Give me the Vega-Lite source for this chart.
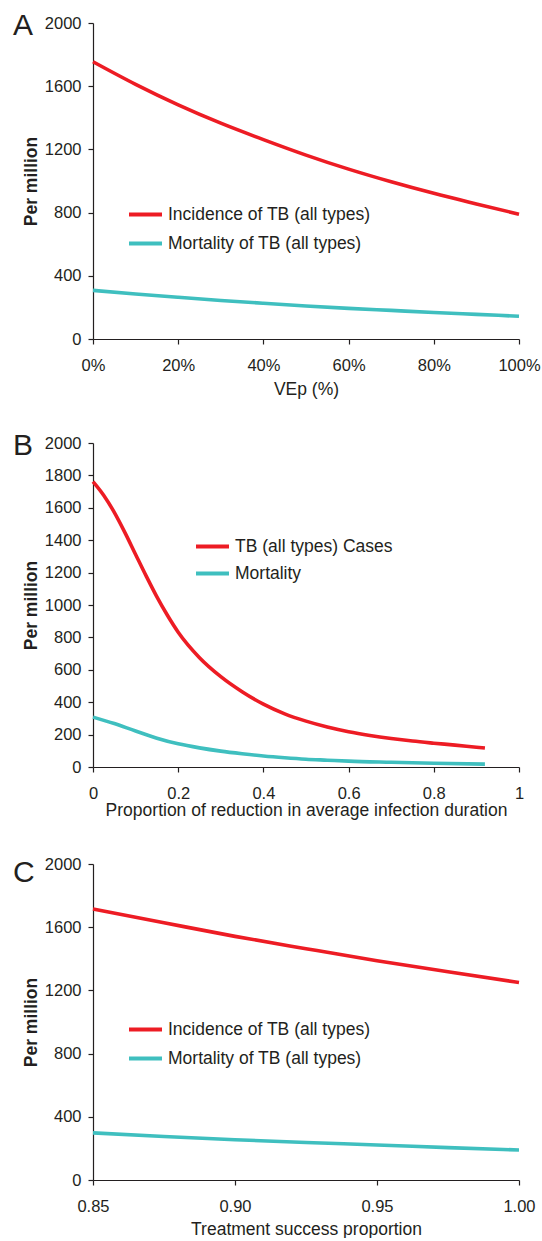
{
  "$schema": "https://vega.github.io/schema/vega-lite/v6.json",
  "padding": {"left": 13, "top": 11, "right": 0, "bottom": 0},
  "background": "white",
  "config": {
    "font": "Liberation Sans",
    "view": {"stroke": null},
    "axis": {"domainColor": "#231f20", "tickColor": "#231f20", "labelColor": "#231f20", "titleColor": "#231f20", "labelFontSize": 16.5, "titleFontSize": 17.5, "grid": false, "tickSize": 5, "labelFont": "Liberation Sans", "titleFont": "Liberation Sans", "domainWidth": 1.2, "tickWidth": 1.2, "labelFlush": false, "labelOverlap": false},
    "axisY": {"titleFontWeight": "bold", "titleFontSize": 17.5, "labelPadding": 7, "titlePadding": 4, "format": "d"},
    "axisX": {"titleFontWeight": "normal", "labelPadding": 13, "titlePadding": 7},
    "legend": {"symbolType": "stroke", "symbolStrokeWidth": 4, "symbolSize": 1089, "labelFontSize": 17.5, "labelColor": "#231f20", "labelOffset": 4, "rowPadding": 2, "labelFont": "Liberation Sans", "labelLimit": 400},
    "title": {"anchor": "start", "frame": "group", "fontSize": 30, "fontWeight": "normal", "color": "#231f20", "font": "Liberation Sans", "dx": -80, "dy": 30, "offset": 0, "baseline": "top"}
  },
  "resolve": {"scale": {"color": "independent", "x": "independent", "y": "independent"}},
  "spacing": 33,
  "vconcat": [
    {
      "width": 426, "height": 316,
      "title": {"text": "A"},
      "data": {"values": [
        {"vep": 0, "series": "Incidence of TB (all types)", "value": 1755},
        {"vep": 10, "series": "Incidence of TB (all types)", "value": 1612},
        {"vep": 20, "series": "Incidence of TB (all types)", "value": 1482},
        {"vep": 30, "series": "Incidence of TB (all types)", "value": 1366},
        {"vep": 40, "series": "Incidence of TB (all types)", "value": 1262},
        {"vep": 50, "series": "Incidence of TB (all types)", "value": 1164},
        {"vep": 60, "series": "Incidence of TB (all types)", "value": 1075},
        {"vep": 70, "series": "Incidence of TB (all types)", "value": 995},
        {"vep": 80, "series": "Incidence of TB (all types)", "value": 922},
        {"vep": 90, "series": "Incidence of TB (all types)", "value": 855},
        {"vep": 100, "series": "Incidence of TB (all types)", "value": 790},
        {"vep": 0, "series": "Mortality of TB (all types)", "value": 308},
        {"vep": 10, "series": "Mortality of TB (all types)", "value": 285},
        {"vep": 20, "series": "Mortality of TB (all types)", "value": 264},
        {"vep": 30, "series": "Mortality of TB (all types)", "value": 244},
        {"vep": 40, "series": "Mortality of TB (all types)", "value": 226},
        {"vep": 50, "series": "Mortality of TB (all types)", "value": 209},
        {"vep": 60, "series": "Mortality of TB (all types)", "value": 194},
        {"vep": 70, "series": "Mortality of TB (all types)", "value": 181},
        {"vep": 80, "series": "Mortality of TB (all types)", "value": 168},
        {"vep": 90, "series": "Mortality of TB (all types)", "value": 156},
        {"vep": 100, "series": "Mortality of TB (all types)", "value": 144}
      ]},
      "mark": {"type": "line", "strokeWidth": 3.6, "interpolate": "monotone"},
      "encoding": {
        "x": {"field": "vep", "type": "quantitative", "scale": {"domain": [0, 100], "nice": false}, "axis": {"values": [0, 20, 40, 60, 80, 100], "labelExpr": "datum.value + '%'", "title": "VEp (%)"}},
        "y": {"field": "value", "type": "quantitative", "scale": {"domain": [0, 2000], "nice": false}, "axis": {"values": [0, 400, 800, 1200, 1600, 2000], "title": "Per million"}},
        "color": {"field": "series", "type": "nominal", "scale": {"domain": ["Incidence of TB (all types)", "Mortality of TB (all types)"], "range": ["#ed1c24", "#3fbfbf"]}, "legend": {"orient": "none", "legendX": 34, "legendY": 173, "title": null}}
      }
    },
    {
      "resolve": {"scale": {"color": "independent", "x": "independent", "y": "independent"}},
      "spacing": 37,
      "vconcat": [
        {
          "width": 426, "height": 324,
          "title": {"text": "B"},
          "data": {"values": [
            {"x": 0, "series": "TB (all types) Cases", "value": 1762},
            {"x": 0.025, "series": "TB (all types) Cases", "value": 1678},
            {"x": 0.05, "series": "TB (all types) Cases", "value": 1572},
            {"x": 0.075, "series": "TB (all types) Cases", "value": 1447},
            {"x": 0.1, "series": "TB (all types) Cases", "value": 1312},
            {"x": 0.125, "series": "TB (all types) Cases", "value": 1178},
            {"x": 0.15, "series": "TB (all types) Cases", "value": 1050},
            {"x": 0.175, "series": "TB (all types) Cases", "value": 935},
            {"x": 0.2, "series": "TB (all types) Cases", "value": 832},
            {"x": 0.25, "series": "TB (all types) Cases", "value": 675},
            {"x": 0.3, "series": "TB (all types) Cases", "value": 558},
            {"x": 0.35, "series": "TB (all types) Cases", "value": 465},
            {"x": 0.4, "series": "TB (all types) Cases", "value": 388},
            {"x": 0.45, "series": "TB (all types) Cases", "value": 328},
            {"x": 0.5, "series": "TB (all types) Cases", "value": 283},
            {"x": 0.55, "series": "TB (all types) Cases", "value": 247},
            {"x": 0.6, "series": "TB (all types) Cases", "value": 218},
            {"x": 0.65, "series": "TB (all types) Cases", "value": 195},
            {"x": 0.7, "series": "TB (all types) Cases", "value": 176},
            {"x": 0.75, "series": "TB (all types) Cases", "value": 160},
            {"x": 0.8, "series": "TB (all types) Cases", "value": 147},
            {"x": 0.85, "series": "TB (all types) Cases", "value": 135},
            {"x": 0.9, "series": "TB (all types) Cases", "value": 122},
            {"x": 0.92, "series": "TB (all types) Cases", "value": 117},
            {"x": 0, "series": "Mortality", "value": 308},
            {"x": 0.05, "series": "Mortality", "value": 268},
            {"x": 0.1, "series": "Mortality", "value": 222},
            {"x": 0.15, "series": "Mortality", "value": 178},
            {"x": 0.2, "series": "Mortality", "value": 143},
            {"x": 0.25, "series": "Mortality", "value": 118},
            {"x": 0.3, "series": "Mortality", "value": 98},
            {"x": 0.35, "series": "Mortality", "value": 82},
            {"x": 0.4, "series": "Mortality", "value": 68},
            {"x": 0.45, "series": "Mortality", "value": 57},
            {"x": 0.5, "series": "Mortality", "value": 48},
            {"x": 0.55, "series": "Mortality", "value": 42},
            {"x": 0.6, "series": "Mortality", "value": 36},
            {"x": 0.7, "series": "Mortality", "value": 29},
            {"x": 0.8, "series": "Mortality", "value": 23},
            {"x": 0.92, "series": "Mortality", "value": 18}
          ]},
          "mark": {"type": "line", "strokeWidth": 3.6, "interpolate": "monotone"},
          "encoding": {
            "x": {"field": "x", "type": "quantitative", "scale": {"domain": [0, 1], "nice": false}, "axis": {"values": [0, 0.2, 0.4, 0.6, 0.8, 1], "format": "~g", "title": "Proportion of reduction in average infection duration", "titlePadding": 0}},
            "y": {"field": "value", "type": "quantitative", "scale": {"domain": [0, 2000], "nice": false}, "axis": {"values": [0, 200, 400, 600, 800, 1000, 1200, 1400, 1600, 1800, 2000], "title": "Per million"}},
            "color": {"field": "series", "type": "nominal", "scale": {"domain": ["TB (all types) Cases", "Mortality"], "range": ["#ed1c24", "#3fbfbf"]}, "legend": {"orient": "none", "legendX": 101, "legendY": 85, "rowPadding": 0, "title": null}}
          }
        },
        {
          "width": 426, "height": 316,
          "title": {"text": "C", "dy": 36},
          "data": {"values": [
            {"x": 0.85, "series": "Incidence of TB (all types)", "value": 1715},
            {"x": 0.875, "series": "Incidence of TB (all types)", "value": 1628},
            {"x": 0.9, "series": "Incidence of TB (all types)", "value": 1542},
            {"x": 0.925, "series": "Incidence of TB (all types)", "value": 1464},
            {"x": 0.95, "series": "Incidence of TB (all types)", "value": 1388},
            {"x": 0.975, "series": "Incidence of TB (all types)", "value": 1318},
            {"x": 1.0, "series": "Incidence of TB (all types)", "value": 1250},
            {"x": 0.85, "series": "Mortality of TB (all types)", "value": 298},
            {"x": 0.875, "series": "Mortality of TB (all types)", "value": 275},
            {"x": 0.9, "series": "Mortality of TB (all types)", "value": 255},
            {"x": 0.925, "series": "Mortality of TB (all types)", "value": 237},
            {"x": 0.95, "series": "Mortality of TB (all types)", "value": 222},
            {"x": 0.975, "series": "Mortality of TB (all types)", "value": 205},
            {"x": 1.0, "series": "Mortality of TB (all types)", "value": 190}
          ]},
          "mark": {"type": "line", "strokeWidth": 3.6, "interpolate": "monotone"},
          "encoding": {
            "x": {"field": "x", "type": "quantitative", "scale": {"domain": [0.85, 1], "nice": false, "zero": false}, "axis": {"values": [0.85, 0.9, 0.95, 1], "format": ".2f", "title": "Treatment success proportion", "titlePadding": 6}},
            "y": {"field": "value", "type": "quantitative", "scale": {"domain": [0, 2000], "nice": false}, "axis": {"values": [0, 400, 800, 1200, 1600, 2000], "title": "Per million"}},
            "color": {"field": "series", "type": "nominal", "scale": {"domain": ["Incidence of TB (all types)", "Mortality of TB (all types)"], "range": ["#ed1c24", "#3fbfbf"]}, "legend": {"orient": "none", "legendX": 34, "legendY": 147, "title": null}}
          }
        }
      ]
    }
  ]
}
